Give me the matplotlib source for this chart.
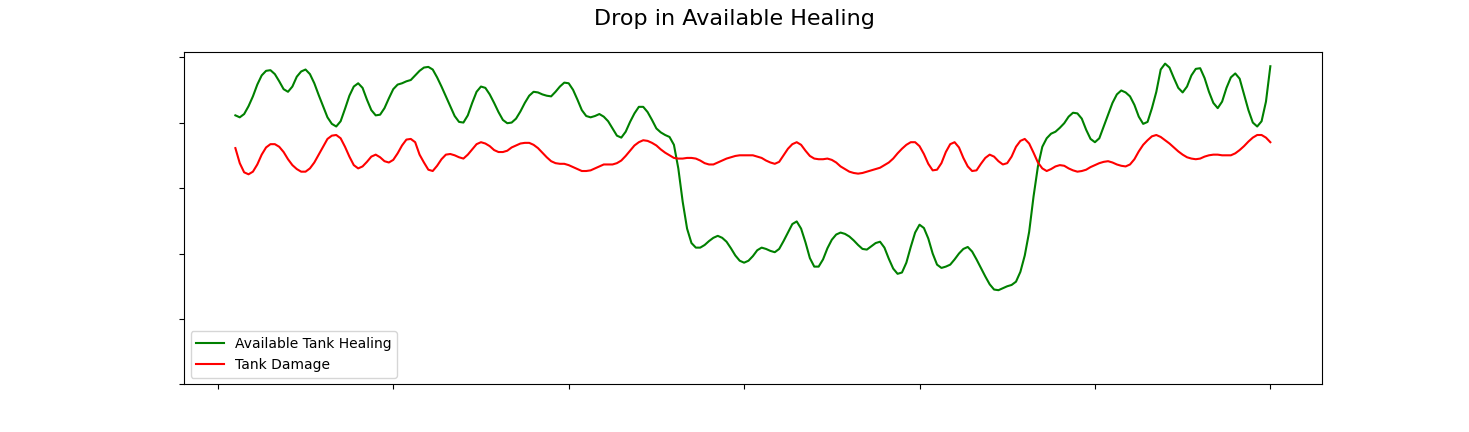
import numpy as np
import matplotlib
matplotlib.use("Agg")
import matplotlib.pyplot as plt

# sample positions (x from 1 to 60 in quarter steps)
x = np.arange(1, 60.001, 0.25)

healing = [
    # x = 1 .. 11.25
    4.11, 4.08, 4.13, 4.25, 4.40, 4.58, 4.72, 4.79, 4.80, 4.74,
    4.63, 4.51, 4.47, 4.55, 4.70, 4.78, 4.81, 4.74, 4.60, 4.42,
    4.25, 4.08, 3.98, 3.94, 4.02, 4.21, 4.41, 4.55, 4.60, 4.53,
    4.35, 4.19, 4.11, 4.12, 4.22, 4.37, 4.51, 4.58, 4.60, 4.63,
    4.65, 4.72,
    # x = 11.5 .. 21.75
    4.79, 4.84, 4.85, 4.81, 4.69, 4.55, 4.40, 4.25, 4.10, 4.01,
    4.00, 4.11, 4.30, 4.47, 4.55, 4.53, 4.43, 4.30, 4.16, 4.04,
    3.99, 4.00, 4.06, 4.17, 4.30, 4.41, 4.47, 4.46, 4.43, 4.41,
    4.40, 4.47, 4.55, 4.61, 4.60, 4.50, 4.35, 4.19, 4.10, 4.08,
    4.10, 4.13,
    # x = 22 .. 32.25
    4.09, 4.02, 3.91, 3.80, 3.77, 3.86, 4.01, 4.14, 4.24, 4.24,
    4.16, 4.04, 3.91, 3.85, 3.81, 3.78, 3.66, 3.30, 2.79, 2.38,
    2.16, 2.09, 2.09, 2.13, 2.19, 2.24, 2.27, 2.24, 2.18, 2.08,
    1.97, 1.89, 1.86, 1.89, 1.96, 2.05, 2.09, 2.07, 2.04, 2.02,
    2.07, 2.19,
    # x = 32.5 .. 42.75
    2.32, 2.45, 2.49, 2.38, 2.17, 1.93, 1.80, 1.80, 1.91, 2.08,
    2.21, 2.29, 2.32, 2.30, 2.26, 2.20, 2.13, 2.07, 2.06, 2.11,
    2.16, 2.18, 2.09, 1.92, 1.77, 1.69, 1.71, 1.86, 2.10, 2.32,
    2.44, 2.39, 2.23, 2.00, 1.83, 1.78, 1.80, 1.83, 1.91, 2.00,
    2.07, 2.10,
    # x = 43 .. 53.25
    2.03, 1.91, 1.78, 1.65, 1.53, 1.45, 1.44, 1.47, 1.50, 1.52,
    1.57, 1.72, 1.97, 2.33, 2.87, 3.33, 3.63, 3.76, 3.83, 3.86,
    3.92, 3.99, 4.09, 4.15, 4.14, 4.06, 3.89, 3.75, 3.70, 3.76,
    3.94, 4.12, 4.30, 4.43, 4.49, 4.46, 4.40, 4.27, 4.09, 3.98,
    4.01, 4.22,
    # x = 53.5 .. 60
    4.47, 4.81, 4.90, 4.84, 4.68, 4.53, 4.46, 4.55, 4.72, 4.82,
    4.83, 4.68, 4.47, 4.30, 4.22, 4.32, 4.53, 4.69, 4.75, 4.67,
    4.43, 4.19, 4.00, 3.94, 4.02, 4.32, 4.86,
]

damage = [
    # x = 1 .. 11.25
    3.61, 3.38, 3.24, 3.21, 3.25, 3.36, 3.51, 3.62, 3.67, 3.67,
    3.63, 3.55, 3.44, 3.35, 3.29, 3.25, 3.25, 3.30, 3.39, 3.51,
    3.63, 3.75, 3.80, 3.81, 3.76, 3.63, 3.48, 3.35, 3.30, 3.33,
    3.40, 3.48, 3.51, 3.47, 3.41, 3.39, 3.43, 3.53, 3.65, 3.74,
    3.75, 3.70,
    # x = 11.5 .. 21.75
    3.51, 3.39, 3.28, 3.26, 3.34, 3.44, 3.51, 3.52, 3.50, 3.47,
    3.45, 3.51, 3.59, 3.67, 3.70, 3.68, 3.64, 3.58, 3.55, 3.55,
    3.57, 3.62, 3.65, 3.68, 3.69, 3.69, 3.66, 3.61, 3.54, 3.47,
    3.41, 3.38, 3.37, 3.37, 3.35, 3.32, 3.29, 3.26, 3.26, 3.27,
    3.30, 3.33,
    # x = 22 .. 32.25
    3.36, 3.36, 3.36, 3.38, 3.42, 3.49, 3.57, 3.65, 3.70, 3.73,
    3.72, 3.69, 3.65, 3.59, 3.54, 3.50, 3.46, 3.45, 3.45, 3.46,
    3.46, 3.45, 3.42, 3.38, 3.36, 3.36, 3.39, 3.42, 3.45, 3.47,
    3.49, 3.50, 3.50, 3.50, 3.50, 3.48, 3.46, 3.42, 3.39, 3.37,
    3.40, 3.50,
    # x = 32.5 .. 42.75
    3.60, 3.67, 3.70, 3.66, 3.57, 3.49, 3.45, 3.44, 3.44, 3.45,
    3.43, 3.39, 3.33, 3.29, 3.25, 3.23, 3.22, 3.23, 3.25, 3.27,
    3.29, 3.31, 3.35, 3.39, 3.45, 3.53, 3.60, 3.66, 3.70, 3.70,
    3.64, 3.52, 3.37, 3.27, 3.28, 3.38, 3.55, 3.67, 3.70, 3.62,
    3.46, 3.33,
    # x = 43 .. 53.25
    3.26, 3.27, 3.37, 3.46, 3.51, 3.48, 3.41, 3.36, 3.38, 3.48,
    3.63, 3.72, 3.75, 3.68, 3.54, 3.39, 3.30, 3.26, 3.29, 3.33,
    3.35, 3.34, 3.30, 3.27, 3.25, 3.26, 3.28, 3.32, 3.35, 3.38,
    3.40, 3.41, 3.39, 3.36, 3.34, 3.33, 3.36, 3.44, 3.56, 3.66,
    3.73, 3.79,
    # x = 53.5 .. 60
    3.81, 3.78, 3.73, 3.68, 3.62, 3.56, 3.51, 3.47, 3.45, 3.44,
    3.45, 3.48, 3.50, 3.51, 3.51, 3.50, 3.50, 3.50, 3.53, 3.58,
    3.64, 3.71, 3.77, 3.81, 3.81, 3.77, 3.70,
]

labels = ["Available Tank Healing", "Tank Damage"]
colors = ["green", "red"]

fig, ax = plt.subplots(figsize=(14.69, 4.32), dpi=100)
ax.plot(x, healing, color=colors[0], label=labels[0])
ax.plot(x, damage, color=colors[1], label=labels[1])

ax.set_ylim(0, 5.08)
ax.set_xticks(np.arange(0, 61, 10))
ax.set_yticks(np.arange(0, 6, 1))
ax.tick_params(labelbottom=False, labelleft=False)

ax.legend(loc="lower left")
fig.suptitle("Drop in Available Healing", fontsize=16)

fig.savefig("out.png", dpi=100)
